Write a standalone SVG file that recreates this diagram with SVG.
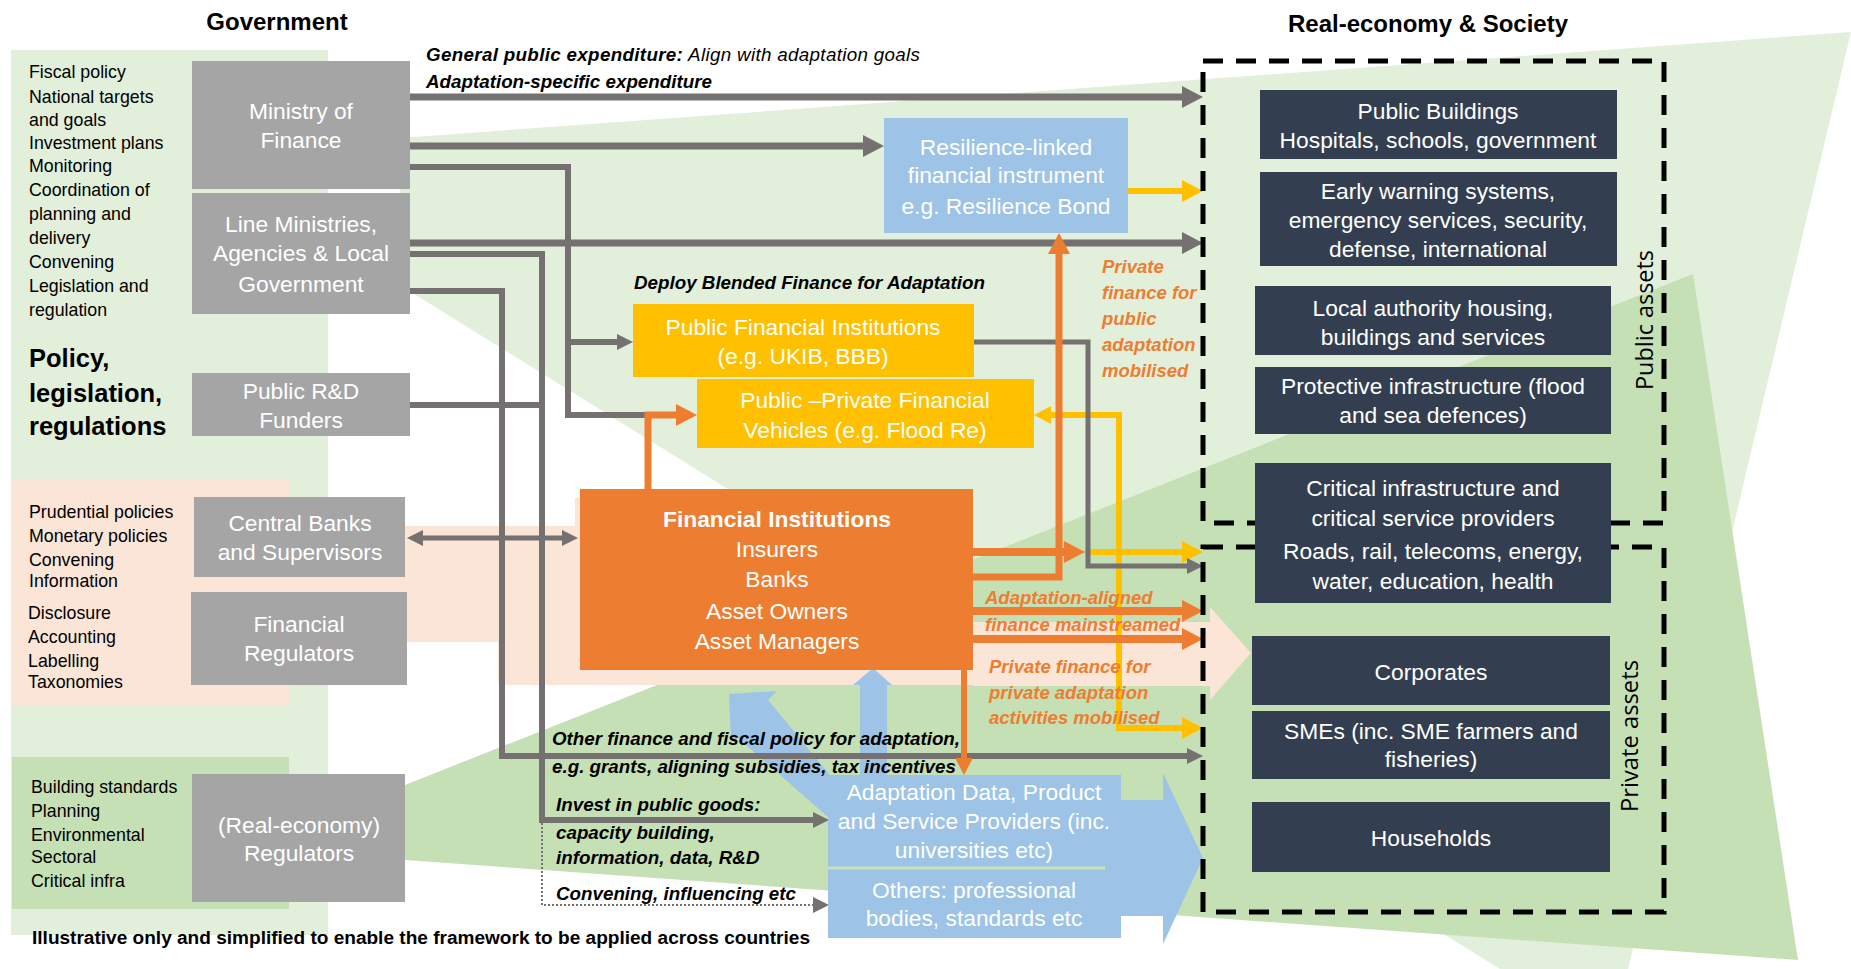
<svg xmlns="http://www.w3.org/2000/svg" width="1851" height="969" viewBox="0 0 1851 969">
<style>
text{font-family:"Liberation Sans",Arial,sans-serif}
.lst{font-size:17.8px;fill:#000}
.nd{font-size:22.8px;fill:#fff;text-anchor:middle}
.bi{font-size:18.8px;font-weight:bold;font-style:italic;fill:#000}
.it{font-weight:normal}
.or{font-size:18.5px;font-weight:bold;font-style:italic;fill:#ed7d31}
.ttl{font-size:24px;font-weight:bold;text-anchor:middle;fill:#000}
.big{font-size:25.5px;font-weight:bold;fill:#000}
.rot{font-family:"Open Sans","DejaVu Sans",sans-serif;font-size:24px;fill:#000;text-anchor:middle}
.gbox{fill:#a5a5a5}
.dbox{fill:#333f50}
.g{fill:none;stroke:#767171;stroke-linejoin:miter}
.o{fill:none;stroke:#ed7d31}
.y{fill:none;stroke:#ffc000}
.dash{fill:none;stroke:#000;stroke-width:5;stroke-dasharray:20 13}
.lg{fill:#e2efda}
.mg{fill:#c5e0b4}
.pc{fill:#fbe5d6}
.bl{fill:#9dc3e6}
</style>
<defs>
<marker id="mgL" viewBox="0 0 21 22" refX="1" refY="11" markerWidth="21" markerHeight="22" markerUnits="userSpaceOnUse" orient="auto"><path d="M0,0 L21,11 L0,22 z" fill="#767171"/></marker>
<marker id="mgS" viewBox="0 0 16 16" refX="1" refY="8" markerWidth="16" markerHeight="16" markerUnits="userSpaceOnUse" orient="auto"><path d="M0,0 L16,8 L0,16 z" fill="#767171"/></marker>
<marker id="mgSr" viewBox="0 0 16 16" refX="15" refY="8" markerWidth="16" markerHeight="16" markerUnits="userSpaceOnUse" orient="auto"><path d="M16,0 L0,8 L16,16 z" fill="#767171"/></marker>
<marker id="moL" viewBox="0 0 21 22" refX="1" refY="11" markerWidth="21" markerHeight="22" markerUnits="userSpaceOnUse" orient="auto"><path d="M0,0 L21,11 L0,22 z" fill="#ed7d31"/></marker>
<marker id="moS" viewBox="0 0 17 18" refX="1" refY="9" markerWidth="17" markerHeight="18" markerUnits="userSpaceOnUse" orient="auto"><path d="M0,0 L17,9 L0,18 z" fill="#ed7d31"/></marker>
<marker id="myL" viewBox="0 0 21 22" refX="1" refY="11" markerWidth="21" markerHeight="22" markerUnits="userSpaceOnUse" orient="auto"><path d="M0,0 L21,11 L0,22 z" fill="#ffc000"/></marker>
<marker id="mySr" viewBox="0 0 17 18" refX="16" refY="9" markerWidth="17" markerHeight="18" markerUnits="userSpaceOnUse" orient="auto"><path d="M17,0 L0,9 L17,18 z" fill="#ffc000"/></marker>
</defs>

<g id="background">
<rect width="1851" height="969" fill="#ffffff"/>
<rect class="lg" x="11" y="50" width="317" height="885"/>
<polygon class="lg" points="400,138 1851,32 1628,969 1500,969 411,292 400,292"/>
<polygon class="mg" points="405,785 1693,274 1798,960 405,860"/>
<rect class="pc" x="12" y="480" width="277" height="225"/>
<rect class="mg" x="12" y="757" width="277" height="152"/>
<rect class="pc" x="289" y="526" width="291" height="116"/>
<rect class="pc" x="498" y="526" width="82" height="159"/>
<rect class="pc" x="575" y="498" width="398" height="187"/>
<polygon class="pc" points="973,622 1210,622 1210,607 1251,653 1210,700 1210,686 973,686"/>
</g>

<g id="titles">
<text class="ttl" x="277" y="30">Government</text>
<text class="ttl" x="1428" y="32">Real-economy &amp; Society</text>
</g>

<g id="gov-list">
<text class="lst" x="29" y="78">Fiscal policy</text>
<text class="lst" x="29" y="103">National targets</text>
<text class="lst" x="29" y="126">and goals</text>
<text class="lst" x="29" y="149">Investment plans</text>
<text class="lst" x="29" y="172">Monitoring</text>
<text class="lst" x="29" y="196">Coordination of</text>
<text class="lst" x="29" y="220">planning and</text>
<text class="lst" x="29" y="244">delivery</text>
<text class="lst" x="29" y="268">Convening</text>
<text class="lst" x="29" y="292">Legislation and</text>
<text class="lst" x="29" y="316">regulation</text>
<text class="big" x="29" y="367">Policy,</text>
<text class="big" x="29" y="402">legislation,</text>
<text class="big" x="29" y="435">regulations</text>
<text class="lst" x="29" y="518">Prudential policies</text>
<text class="lst" x="29" y="542">Monetary policies</text>
<text class="lst" x="29" y="566">Convening</text>
<text class="lst" x="29" y="587">Information</text>
<text class="lst" x="28" y="619">Disclosure</text>
<text class="lst" x="28" y="643">Accounting</text>
<text class="lst" x="28" y="667">Labelling</text>
<text class="lst" x="28" y="688">Taxonomies</text>
<text class="lst" x="31" y="793">Building standards</text>
<text class="lst" x="31" y="817">Planning</text>
<text class="lst" x="31" y="841">Environmental</text>
<text class="lst" x="31" y="863">Sectoral</text>
<text class="lst" x="31" y="887">Critical infra</text>
</g>

<g id="blue-shapes">
<polygon class="bl" points="729,694 777,691 768,700 829,774 829,818 738,738 731,742"/>
<polygon class="bl" points="860,776 860,685 853,685 873,668 892,685 887,685 887,776"/>
</g>

<g id="connectors">
<path class="y" stroke-width="6" d="M1128,191 H1183" marker-end="url(#myL)"/>
<path class="y" stroke-width="6" d="M1085,552 H1183" marker-end="url(#myL)"/>
<path class="y" stroke-width="6" d="M1050,415 H1119 V728 H1183" marker-start="url(#mySr)" marker-end="url(#myL)"/>
<path class="g" stroke-width="7" d="M410,97 H1183" marker-end="url(#mgL)"/>
<path class="g" stroke-width="7" d="M410,146 H864" marker-end="url(#mgL)"/>
<path class="g" stroke-width="6" d="M410,167 H568 V342 H618" marker-end="url(#mgS)"/>
<path class="g" stroke-width="6" d="M568,342 V415 H648"/>
<path class="g" stroke-width="7" d="M389,243 H1183" marker-end="url(#mgL)"/>
<path class="g" stroke-width="6" d="M410,254 H542 V820 H814" marker-end="url(#mgS)"/>
<path class="g" stroke-width="2" stroke-dasharray="2 2" d="M542,823 V905 H814" marker-end="url(#mgS)"/>
<path class="g" stroke-width="6" d="M410,291 H502 V756 H1188" marker-end="url(#mgS)"/>
<path class="g" stroke-width="6" d="M410,405 H542"/>
<path class="g" stroke-width="5" d="M422,538 H563" marker-start="url(#mgSr)" marker-end="url(#mgS)"/>
<path class="g" stroke-width="5" d="M974,342 H1088 V566 H1188" marker-end="url(#mgS)"/>
<path class="o" stroke-width="7" d="M648,489 V415 H677" marker-end="url(#moL)"/>
<path class="o" stroke-width="7" d="M973,577 H1059 V253" marker-end="url(#moL)"/>
<path class="o" stroke-width="8" d="M973,552 H1065" marker-end="url(#moL)"/>
<path class="o" stroke-width="8" d="M973,611 H1183" marker-end="url(#moL)"/>
<path class="o" stroke-width="8" d="M973,639 H1183" marker-end="url(#moL)"/>
<path class="o" stroke-width="6" d="M964,670 V759" marker-end="url(#moS)"/>
</g>

<g id="ministry-of-finance">
<rect class="gbox" x="192" y="61" width="218" height="128"/>
<text class="nd" x="301" y="119">Ministry of</text>
<text class="nd" x="301" y="148">Finance</text>
</g>
<g id="line-ministries">
<rect class="gbox" x="192" y="193" width="218" height="121"/>
<text class="nd" x="301" y="232">Line Ministries,</text>
<text class="nd" x="301" y="261">Agencies &amp; Local</text>
<text class="nd" x="301" y="292">Government</text>
</g>
<g id="public-rd-funders">
<rect class="gbox" x="192" y="373" width="218" height="63"/>
<text class="nd" x="301" y="399">Public R&amp;D</text>
<text class="nd" x="301" y="428">Funders</text>
</g>
<g id="central-banks">
<rect class="gbox" x="194" y="497" width="211" height="80"/>
<text class="nd" x="300" y="531">Central Banks</text>
<text class="nd" x="300" y="560">and Supervisors</text>
</g>
<g id="financial-regulators">
<rect class="gbox" x="191" y="592" width="216" height="93"/>
<text class="nd" x="299" y="632">Financial</text>
<text class="nd" x="299" y="661">Regulators</text>
</g>
<g id="real-economy-regulators">
<rect class="gbox" x="192" y="774" width="213" height="128"/>
<text class="nd" x="299" y="833">(Real-economy)</text>
<text class="nd" x="299" y="861">Regulators</text>
</g>

<g id="resilience-instrument">
<rect class="bl" x="884" y="118" width="244" height="115"/>
<text class="nd" x="1006" y="155">Resilience-linked</text>
<text class="nd" x="1006" y="183">financial instrument</text>
<text class="nd" x="1006" y="214">e.g. Resilience Bond</text>
</g>
<g id="public-financial-institutions">
<rect x="633" y="304" width="341" height="73" fill="#ffc000"/>
<text class="nd" x="803" y="335">Public Financial Institutions</text>
<text class="nd" x="803" y="364">(e.g. UKIB, BBB)</text>
</g>
<g id="public-private-vehicles">
<rect x="697" y="379" width="337" height="69" fill="#ffc000"/>
<text class="nd" x="865" y="408">Public –Private Financial</text>
<text class="nd" x="865" y="438">Vehicles (e.g. Flood Re)</text>
</g>
<g id="financial-institutions">
<rect x="580" y="489" width="393" height="181" fill="#ed7d31"/>
<text class="nd" x="777" y="527" font-weight="bold" font-size="21.7">Financial Institutions</text>
<text class="nd" x="777" y="557">Insurers</text>
<text class="nd" x="777" y="587">Banks</text>
<text class="nd" x="777" y="619">Asset Owners</text>
<text class="nd" x="777" y="649">Asset Managers</text>
</g>
<g id="adaptation-data-providers">
<polygon class="bl" points="828,775 1121,775 1121,800 1163,800 1163,773 1203,858 1163,944 1163,916 1121,916 1121,938 828,938"/>
<line x1="828" y1="868" x2="1105" y2="868" stroke="#c9e2b8" stroke-width="3"/>
<text class="nd" x="974" y="800">Adaptation Data, Product</text>
<text class="nd" x="974" y="829">and Service Providers (inc.</text>
<text class="nd" x="974" y="858">universities etc)</text>
<text class="nd" x="974" y="898">Others: professional</text>
<text class="nd" x="974" y="926">bodies, standards etc</text>
</g>

<g id="asset-boxes">
<rect class="dash" x="1203" y="61" width="461" height="462"/>
<rect class="dash" x="1203" y="547" width="461" height="365"/>
<text class="rot" transform="translate(1653,320) rotate(-90)" textLength="140" lengthAdjust="spacingAndGlyphs">Public assets</text>
<text class="rot" transform="translate(1638,736) rotate(-90)" textLength="152" lengthAdjust="spacingAndGlyphs">Private assets</text>
</g>
<g id="public-buildings">
<rect class="dbox" x="1260" y="90" width="357" height="69"/>
<text class="nd" x="1438" y="119">Public Buildings</text>
<text class="nd" x="1438" y="148">Hospitals, schools, government</text>
</g>
<g id="early-warning">
<rect class="dbox" x="1260" y="172" width="357" height="94"/>
<text class="nd" x="1438" y="199">Early warning systems,</text>
<text class="nd" x="1438" y="228">emergency services, security,</text>
<text class="nd" x="1438" y="257">defense, international</text>
</g>
<g id="local-authority">
<rect class="dbox" x="1255" y="286" width="356" height="69"/>
<text class="nd" x="1433" y="316">Local authority housing,</text>
<text class="nd" x="1433" y="345">buildings and services</text>
</g>
<g id="protective-infrastructure">
<rect class="dbox" x="1255" y="367" width="356" height="67"/>
<text class="nd" x="1433" y="394">Protective infrastructure (flood</text>
<text class="nd" x="1433" y="423">and sea defences)</text>
</g>
<g id="critical-infrastructure">
<rect class="dbox" x="1255" y="463" width="356" height="140"/>
<text class="nd" x="1433" y="496">Critical infrastructure and</text>
<text class="nd" x="1433" y="526">critical service providers</text>
<text class="nd" x="1433" y="559">Roads, rail, telecoms, energy,</text>
<text class="nd" x="1433" y="589">water, education, health</text>
</g>
<g id="corporates">
<rect class="dbox" x="1252" y="636" width="358" height="69"/>
<text class="nd" x="1431" y="680">Corporates</text>
</g>
<g id="smes">
<rect class="dbox" x="1252" y="711" width="358" height="68"/>
<text class="nd" x="1431" y="739">SMEs (inc. SME farmers and</text>
<text class="nd" x="1431" y="767">fisheries)</text>
</g>
<g id="households">
<rect class="dbox" x="1252" y="802" width="358" height="70"/>
<text class="nd" x="1431" y="846">Households</text>
</g>

<g id="labels">
<text class="bi" x="426" y="61" textLength="494" lengthAdjust="spacing">General public expenditure:<tspan class="it"> Align with adaptation goals</tspan></text>
<text class="bi" x="426" y="88">Adaptation-specific expenditure</text>
<text class="bi" x="634" y="289">Deploy Blended Finance for Adaptation</text>
<text class="or" x="1102" y="273">Private</text>
<text class="or" x="1102" y="299">finance for</text>
<text class="or" x="1102" y="325">public</text>
<text class="or" x="1102" y="351">adaptation</text>
<text class="or" x="1102" y="377">mobilised</text>
<text class="or" x="985" y="604">Adaptation-aligned</text>
<text class="or" x="985" y="631">finance mainstreamed</text>
<text class="or" x="989" y="673">Private finance for</text>
<text class="or" x="989" y="699">private adaptation</text>
<text class="or" x="989" y="724">activities mobilised</text>
<text class="bi" x="552" y="745">Other finance and fiscal policy for adaptation,</text>
<text class="bi" x="552" y="773">e.g. grants, aligning subsidies, tax incentives</text>
<text class="bi" x="556" y="811">Invest in public goods:</text>
<text class="bi" x="556" y="839">capacity building,</text>
<text class="bi" x="556" y="864">information, data, R&amp;D</text>
<text class="bi" x="556" y="900">Convening, influencing etc</text>
<text x="32" y="944" font-size="17.5" font-weight="bold" textLength="778" lengthAdjust="spacingAndGlyphs">Illustrative only and simplified to enable the framework to be applied across countries</text>
</g>
</svg>
